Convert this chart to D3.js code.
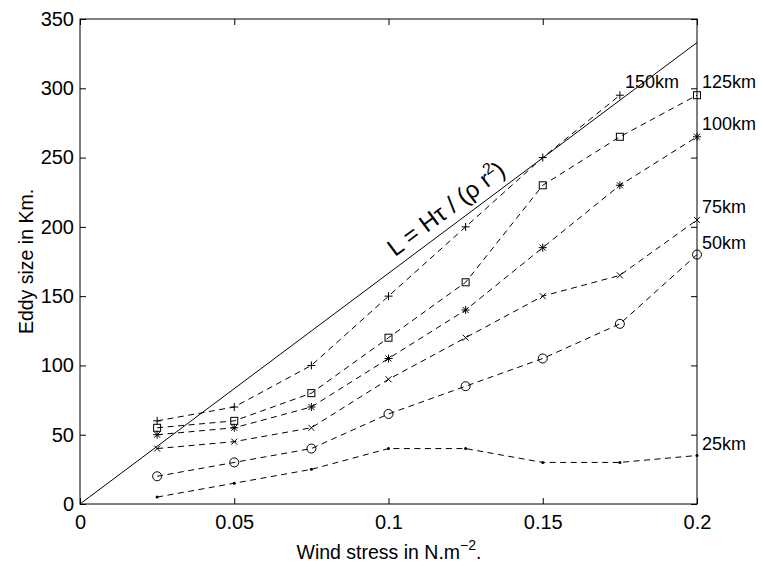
<!DOCTYPE html>
<html>
<head>
<meta charset="utf-8">
<script src="https://cdn.jsdelivr.net/npm/d3@7"></script>
<style>
  body { margin: 0; background: #fff; }
  text { font-family: "Liberation Sans", Arial, sans-serif; fill: #000; }
</style>
</head>
<body>
<svg id="chart" width="763" height="567"></svg>
<script>
// data
var stress = [0.025, 0.05, 0.075, 0.1, 0.125, 0.15, 0.175, 0.2];
var s150 = [60, 70, 100, 150, 200, 250, 295];
var s125 = [55, 60, 80, 120, 160, 230, 265, 295];
var s100 = [50, 55, 70, 105, 140, 185, 230, 265];
var s75 = [40, 45, 55, 90, 120, 150, 165, 205];
var s50 = [20, 30, 40, 65, 85, 105, 130, 180];
var s25 = [5, 15, 25, 40, 40, 30, 30, 35];
var xTicks = [0, 0.05, 0.1, 0.15, 0.2];
var yTicks = [0, 50, 100, 150, 200, 250, 300, 350];
var theorySlope = 1665; // km per N.m^-2, L = H tau / (rho r^2)

var series = [
  { name: '150km', vals: s150, mark: 'plus', lx: 625, ly: 88 },
  { name: '125km', vals: s125, mark: 'square', lx: 702, ly: 88 },
  { name: '100km', vals: s100, mark: 'star', lx: 702, ly: 130 },
  { name: '75km', vals: s75, mark: 'cross', lx: 702, ly: 213 },
  { name: '50km', vals: s50, mark: 'circle', lx: 702, ly: 249 },
  { name: '25km', vals: s25, mark: 'dot', lx: 702, ly: 450 }
];

var padL = 80, padR = 697, padT = 19, padB = 504;
var x = d3.scaleLinear().domain([0, 0.2]).range([padL, padR]);
var y = d3.scaleLinear().domain([0, 350]).range([padB, padT]);

var svg = d3.select('#chart');

// axes, ticks pointing inward on all four sides
var xAxis = d3.axisBottom(x).tickValues(xTicks).tickSize(-6).tickPadding(11)
  .tickFormat(function (d) { return d === 0 ? '0' : String(+d.toFixed(2)); });
var yAxis = d3.axisLeft(y).tickValues(yTicks).tickSize(-6).tickPadding(6);

var gx = svg.append('g').attr('transform', 'translate(0,' + padB + ')').call(xAxis);
var gy = svg.append('g').attr('transform', 'translate(' + padL + ',0)').call(yAxis);
var gy2 = svg.append('g').attr('transform', 'translate(' + padR + ',0)')
  .call(d3.axisRight(y).tickValues(yTicks).tickSize(-6).tickFormat(''));
var gx2 = svg.append('g').attr('transform', 'translate(0,' + padT + ')')
  .call(d3.axisTop(x).tickValues(xTicks).tickSize(-6).tickFormat(''));

[gx, gy, gy2, gx2].forEach(function (g) {
  g.select('.domain').remove();
  g.selectAll('line').attr('stroke', '#000');
  g.selectAll('text').style('font-size', '20px').style('font-family', '"Liberation Sans", Arial, sans-serif');
});

svg.append('rect')
  .attr('x', padL).attr('y', padT)
  .attr('width', padR - padL).attr('height', padB - padT)
  .attr('fill', 'none').attr('stroke', '#000').attr('stroke-width', 1);

// theory line
svg.append('line')
  .attr('x1', x(0)).attr('y1', y(0))
  .attr('x2', x(0.2)).attr('y2', y(0.2 * theorySlope))
  .attr('stroke', '#000').attr('stroke-width', 1);

var ang = Math.atan2(y(0.2 * theorySlope) - y(0), x(0.2) - x(0)) * 180 / Math.PI;
var tMid = 0.122;
var formula = svg.append('text')
  .attr('transform', 'translate(' + x(tMid) + ',' + y(tMid * theorySlope) + ') rotate(' + ang + ') translate(0,-9)')
  .attr('text-anchor', 'middle')
  .style('font-size', '24px');
formula.append('tspan').text('L = H\u03C4 / (\u03C1 r');
formula.append('tspan').attr('dy', -10).style('font-size', '16px').text('2');
formula.append('tspan').attr('dy', 10).text(')');

// series
var line = d3.line()
  .x(function (d, i) { return x(stress[i]); })
  .y(function (d) { return y(d); });

series.forEach(function (s) {
  svg.append('path')
    .attr('d', line(s.vals))
    .attr('fill', 'none').attr('stroke', '#000')
    .attr('stroke-width', 1).attr('stroke-dasharray', '6,4.5');

  var g = svg.append('g');
  s.vals.forEach(function (v, i) {
    var cx = x(stress[i]), cy = y(v), r = 4;
    var m = g.append('g').attr('transform', 'translate(' + cx + ',' + cy + ')');
    if (s.mark === 'plus') {
      m.append('path').attr('d', 'M' + (-r) + ',0H' + r + 'M0,' + (-r) + 'V' + r);
    } else if (s.mark === 'square') {
      m.append('rect').attr('x', -3.5).attr('y', -3.5).attr('width', 7).attr('height', 7);
    } else if (s.mark === 'star') {
      m.append('path').attr('d', 'M' + (-r) + ',0H' + r + 'M0,' + (-r) + 'V' + r +
        'M-3,-3L3,3M-3,3L3,-3');
    } else if (s.mark === 'cross') {
      m.append('path').attr('d', 'M-3,-3L3,3M-3,3L3,-3');
    } else if (s.mark === 'circle') {
      m.append('circle').attr('r', 4.5);
    } else {
      m.append('circle').attr('r', 1.5).attr('fill', '#000');
    }
    m.selectAll('path, rect, circle:not([fill])')
      .attr('fill', 'none').attr('stroke', '#000').attr('stroke-width', 1);
  });

  svg.append('text').attr('x', s.lx).attr('y', s.ly)
    .style('font-size', '18px').text(s.name);
});

// axis titles
var xl = svg.append('text')
  .attr('x', 389).attr('y', 559)
  .attr('text-anchor', 'middle')
  .style('font-size', '19.5px');
xl.append('tspan').text('Wind stress in N.m');
xl.append('tspan').attr('dy', -9).style('font-size', '14px').text('\u22122');
xl.append('tspan').attr('dy', 9).text('.');

svg.append('text')
  .attr('transform', 'translate(33,' + ((padT + padB) / 2) + ') rotate(-90)')
  .attr('text-anchor', 'middle')
  .style('font-size', '19.5px')
  .text('Eddy size in Km.');
</script>
</body>
</html>
